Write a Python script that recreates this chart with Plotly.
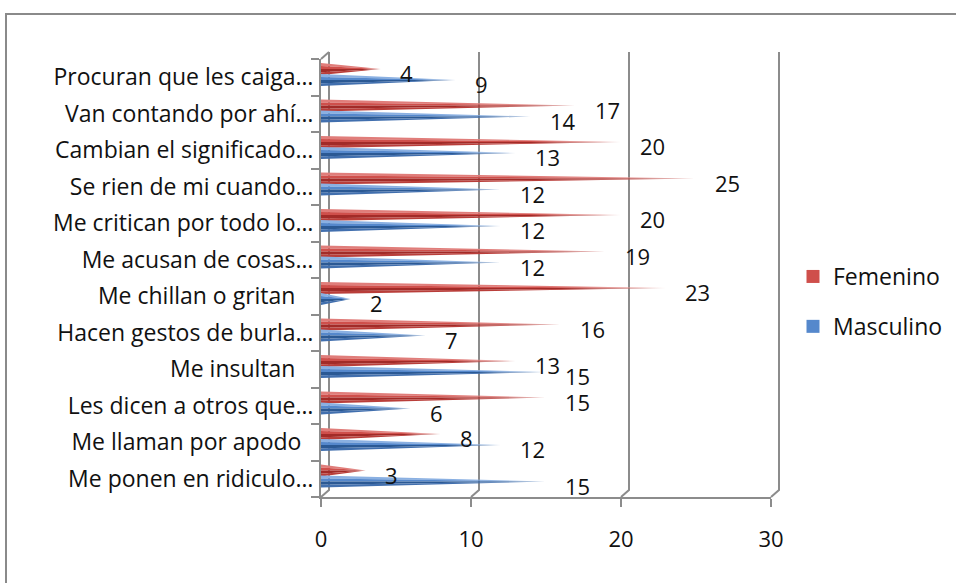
import plotly.graph_objects as go

# Survey answers, listed bottom-to-top as they appear on the category axis
categories = [
    "Me ponen en ridiculo…",
    "Me llaman por apodo\u00a0\u00a0",
    "Les dicen a otros que…",
    "Me insultan\u00a0\u00a0\u00a0",
    "Hacen gestos de burla…",
    "Me chillan o gritan\u00a0\u00a0\u00a0",
    "Me acusan de cosas…",
    "Me critican por todo lo…",
    "Se rien de mi cuando…",
    "Cambian el significado…",
    "Van contando por ahí…",
    "Procuran que les caiga…",
]
masculino = [15, 12, 6, 15, 7, 2, 12, 12, 12, 13, 14, 9]
femenino = [3, 8, 15, 13, 16, 23, 19, 20, 25, 20, 17, 4]
x_ticks = [0, 10, 20, 30]

FONT = "Open Sans"
TEXT = "#111111"
AXIS = "#8c8c8c"

# plot box in pixels
W, H = 956, 583
L, T, PW, PH = 321, 59, 450, 438
XMAX = 30
DX, DY = 8, 7  # depth offset of the back wall


def px_x(px):
    return (px - L) / PW


def px_y(py):
    return (T + PH - py) / PH


def mix(hexc, w):
    h = hexc.lstrip("#")
    r, g, b = (int(h[i:i + 2], 16) for i in (0, 2, 4))
    r, g, b = (round(c + (255 - c) * w) for c in (r, g, b))
    return f"rgb({r},{g},{b})"


# shading bands of a cone, top to bottom
red_bands = ["#e07d7a", "#cf4f4b", "#a22b28", "#b93e3a"]
blue_bands = ["#8ab0e2", "#5588cc", "#2b5994", "#416fae"]
band_edges = [1.0, 0.5, 0.0, -0.55, -1.0]

unit_px = PH / len(categories)
half_h = 6.0 / unit_px
series = [
    ("Femenino", femenino, red_bands, 8.25 / unit_px),
    ("Masculino", masculino, blue_bands, -2.75 / unit_px),
]

fig = go.Figure()

for name, vals, bands, off in series:
    for i, v in enumerate(vals):
        yc = i + off
        for k, c in enumerate(bands):
            ya = yc + half_h * band_edges[k]
            yb = yc + half_h * band_edges[k + 1]
            fig.add_trace(go.Scatter(
                x=[0, v, 0, 0], y=[ya, yc, yb, ya],
                mode="lines", line=dict(width=0), fill="toself",
                fillgradient=dict(
                    type="horizontal",
                    colorscale=[[0, c], [0.75, c], [0.93, mix(c, 0.35)], [1, mix(c, 0.7)]],
                ),
                hoverinfo="skip", showlegend=False,
            ))

# legend entries
for gi, (name, _, bands, _) in enumerate(series):
    fig.add_trace(go.Scatter(
        x=[None], y=[None], mode="markers", name=name, legendgroup=f"g{gi}",
        marker=dict(symbol="square", size=13, color=bands[1]),
    ))

annotations = []
for name, vals, bands, off in series:
    for i, v in enumerate(vals):
        annotations.append(dict(
            x=v, y=i + off, xref="x", yref="y", text=str(v), showarrow=False,
            xanchor="left", yanchor="middle", xshift=17, yshift=-4,
            font=dict(family=FONT, size=22, color=TEXT),
        ))

shapes = [
    # outer frame
    dict(type="rect", xref="paper", yref="paper",
         x0=px_x(6), x1=px_x(980), y0=px_y(610), y1=px_y(14),
         line=dict(color="#8a8a8a", width=2), layer="below"),
    # top edge of the side wall
    dict(type="path", xref="paper", yref="paper",
         path=f"M {px_x(L)},{px_y(T)} L {px_x(L + DX)},{px_y(T - DY)}",
         line=dict(color=AXIS, width=2), layer="below"),
]
for v in x_ticks:
    xf = v / XMAX
    xb = xf + DX / PW
    shapes.append(dict(
        type="path", xref="paper", yref="paper",
        path=f"M {xb},{px_y(T - DY)} L {xb},{px_y(T + PH - DY)} L {xf},0",
        line=dict(color=AXIS, width=2), layer="below",
    ))

fig.update_layout(
    width=W, height=H,
    margin=dict(l=L, r=W - L - PW, t=T, b=H - T - PH, autoexpand=False),
    paper_bgcolor="white", plot_bgcolor="rgba(0,0,0,0)",
    font=dict(family=FONT, size=22, color=TEXT),
    showlegend=True,
    legend=dict(
        x=px_x(793), y=px_y(255), xanchor="left", yanchor="top",
        font=dict(family=FONT, size=23, color=TEXT),
        tracegroupgap=17, bgcolor="rgba(0,0,0,0)", itemclick=False,
    ),
    xaxis=dict(
        range=[0, XMAX], tickvals=x_ticks, showgrid=False, zeroline=False,
        showline=True, linecolor=AXIS, linewidth=2,
        ticks="outside", ticklen=8, tickwidth=2, tickcolor=AXIS,
        ticklabelstandoff=14, tickfont=dict(family=FONT, size=22, color=TEXT),
    ),
    yaxis=dict(
        range=[-0.5, len(categories) - 0.5],
        tickvals=list(range(len(categories))), ticktext=categories,
        showgrid=False, zeroline=False,
        showline=True, linecolor=AXIS, linewidth=2, ticks="",
        minor=dict(tickvals=[k - 0.5 for k in range(len(categories) + 1)],
                   ticks="outside", ticklen=8, tickwidth=2, tickcolor=AXIS,
                   showgrid=False),
        ticklabelstandoff=1, tickfont=dict(family=FONT, size=23, color=TEXT),
    ),
    shapes=shapes, annotations=annotations,
)

fig.write_html("out.html")
